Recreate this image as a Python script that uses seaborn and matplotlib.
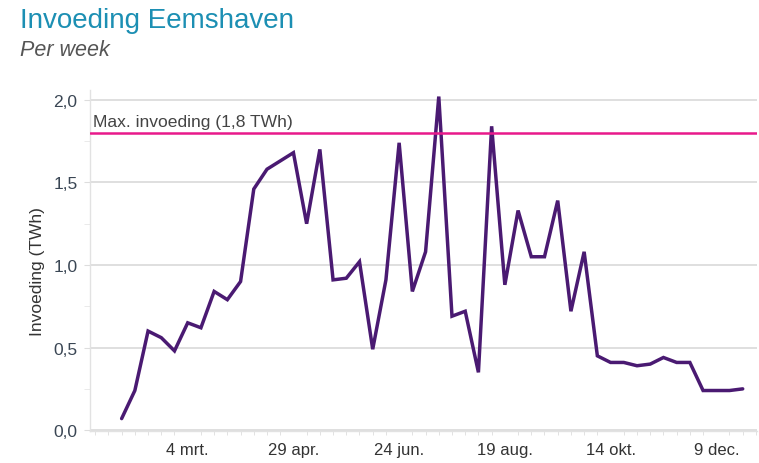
import pandas as pd
import matplotlib
matplotlib.use("Agg")
import matplotlib.pyplot as plt
import matplotlib.dates as mdates
from matplotlib.ticker import FuncFormatter, MultipleLocator
import seaborn as sns

# weekly feed-in (TWh)
weeks = pd.date_range("2019-01-28", periods=48, freq="7D")
invoeding = [0.07, 0.24, 0.60, 0.56, 0.48, 0.65, 0.62, 0.84, 0.79, 0.90,
             1.46, 1.58, 1.63, 1.68, 1.25, 1.70, 0.91, 0.92, 1.02, 0.49,
             0.91, 1.74, 0.84, 1.08, 2.02, 0.69, 0.72, 0.35, 1.84, 0.88,
             1.33, 1.05, 1.05, 1.39, 0.72, 1.08, 0.45, 0.41, 0.41, 0.39,
             0.40, 0.44, 0.41, 0.41, 0.24, 0.24, 0.24, 0.25]
max_invoeding = 1.8
tick_dates = pd.date_range("2019-03-04", periods=6, freq="56D")
maanden = ["jan.", "feb.", "mrt.", "apr.", "mei", "jun.",
           "jul.", "aug.", "sep.", "okt.", "nov.", "dec."]

df = pd.DataFrame({"week": weeks, "invoeding": invoeding})

sns.set_style("white")
plt.rcParams["font.family"] = ["Liberation Sans", "DejaVu Sans"]

fig = plt.figure(figsize=(7.59, 4.64), dpi=100)
ax = fig.add_axes([0.1186, 0.069, 0.8788, 0.735])

ax.yaxis.grid(True, color="#dcdcdc", linewidth=1.3)
ax.set_axisbelow(True)

sns.lineplot(data=df, x="week", y="invoeding", ax=ax, color="#4a1a72",
             linewidth=2.5, solid_joinstyle="miter")
ax.axhline(max_invoeding, color="#e8198b", linewidth=1.8, zorder=3)
ax.text(0.004, max_invoeding + 0.022, "Max. invoeding (1,8 TWh)",
        transform=ax.get_yaxis_transform(), fontsize=12.6, color="#444444",
        va="bottom", ha="left")

ax.set_xlim(pd.Timestamp("2019-01-11 06:00"), pd.Timestamp("2019-12-30 14:00"))
ax.set_ylim(-0.005, 2.06)

ax.set_xticks(tick_dates)
ax.xaxis.set_major_formatter(FuncFormatter(
    lambda v, p: f"{mdates.num2date(v).day} {maanden[mdates.num2date(v).month - 1]}"))
ax.xaxis.set_minor_locator(mdates.DayLocator(interval=7))
ax.set_yticks([0, 0.5, 1.0, 1.5, 2.0])
ax.yaxis.set_major_formatter(FuncFormatter(lambda v, p: f"{v:.1f}".replace(".", ",")))
ax.yaxis.set_minor_locator(MultipleLocator(0.25))

ax.tick_params(axis="x", which="major", length=5, color="#cccccc", labelsize=12,
               labelcolor="#333333", pad=3)
ax.tick_params(axis="x", which="minor", length=3, color="#dddddd", bottom=True)
ax.tick_params(axis="y", which="major", length=4, color="#dddddd", labelsize=12.5,
               labelcolor="#3a4654", pad=5, left=True)
ax.tick_params(axis="y", which="minor", length=4, color="#e6e6e6", left=True)

for side in ["top", "right"]:
    ax.spines[side].set_visible(False)
for side in ["left", "bottom"]:
    ax.spines[side].set_color("#e2e2e2")
    ax.spines[side].set_linewidth(1)

ax.set_xlabel("")
ax.set_ylabel("Invoeding (TWh)", fontsize=12.5, color="#333333")
ax.yaxis.set_label_coords(-0.068, 0.47)

fig.text(20 / 759, 1 - 21 / 464, "Invoeding Eemshaven", fontsize=20,
         color="#1c8fb3", va="center", ha="left")
fig.text(20 / 759, 1 - 51 / 464, "Per week", fontsize=15.5, style="italic",
         color="#555555", va="center", ha="left")

fig.savefig("out.png", dpi=100)
